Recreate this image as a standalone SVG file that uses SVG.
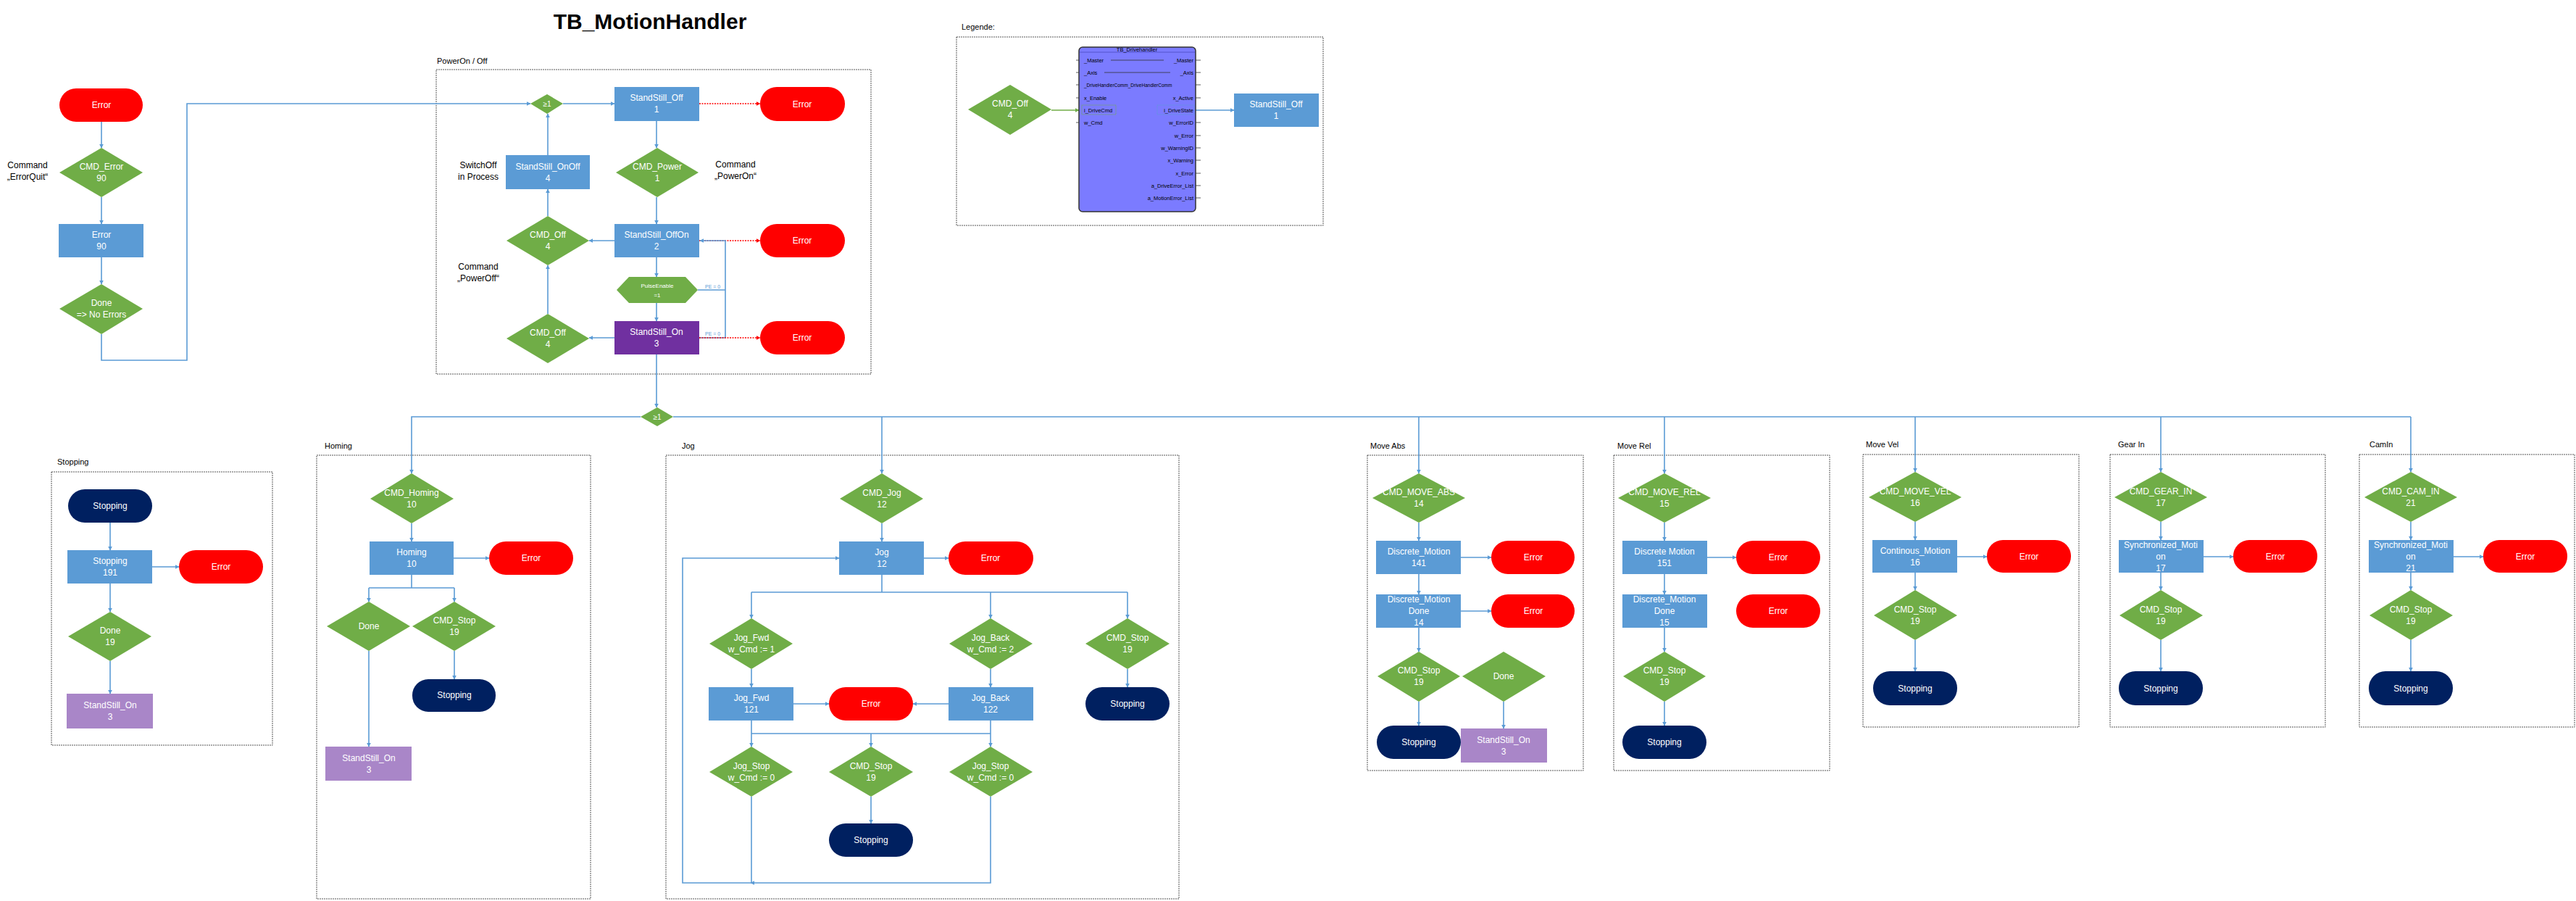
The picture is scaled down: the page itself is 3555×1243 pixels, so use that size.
<svg xmlns="http://www.w3.org/2000/svg" width="3555" height="1243" viewBox="0 0 3555 1243">
<style>
text{font-family:"Liberation Sans",Arial,sans-serif;font-size:12px}
.w{fill:#fff;text-anchor:middle}
.k{fill:#000}
.kc{fill:#000;text-anchor:middle}
.g{fill:#70ad47}
.b{fill:#5b9bd5}
.r{fill:#ff0000}
.n{fill:#002060}
.p{fill:#7030a0}
.l{fill:#a986c8}
.fr{fill:none;stroke:#555;stroke-width:1;stroke-dasharray:2 1}
.c{fill:none;stroke:#5b9bd5;stroke-width:1.6}
.ca{fill:none;stroke:#5b9bd5;stroke-width:1.6;marker-end:url(#ab)}
.cr{fill:none;stroke:#ff0000;stroke-width:1.4;stroke-dasharray:2 1.5;marker-end:url(#ar)}
.pe{fill:#5b9bd5;font-size:7px}
.pin{fill:#000;font-size:7.5px}
</style>
<defs>
<marker id="ab" viewBox="0 0 10 10" refX="9" refY="5" markerWidth="6" markerHeight="6" markerUnits="userSpaceOnUse" orient="auto"><path d="M0,0 L10,5 L0,10 z" fill="#5b9bd5"/></marker>
<marker id="ar" viewBox="0 0 10 10" refX="9" refY="5" markerWidth="6" markerHeight="6" markerUnits="userSpaceOnUse" orient="auto"><path d="M0,0 L10,5 L0,10 z" fill="#ff0000"/></marker>
<marker id="ag" viewBox="0 0 10 10" refX="9" refY="5" markerWidth="6" markerHeight="6" markerUnits="userSpaceOnUse" orient="auto"><path d="M0,0 L10,5 L0,10 z" fill="#70ad47"/></marker>
</defs>
<rect width="3555" height="1243" fill="#fff"/>
<text x="897" y="40" style="font-size:30px;font-weight:bold;text-anchor:middle" fill="#000">TB_MotionHandler</text>

<!-- frames -->
<g id="frames">
<rect class="fr" x="602" y="96" width="600" height="420"/>
<text class="k" x="603" y="88" style="font-size:11px">PowerOn / Off</text>
<rect class="fr" x="1320" y="51" width="506" height="260"/>
<text class="k" x="1327" y="41" style="font-size:11px">Legende:</text>
<rect class="fr" x="71" y="651" width="305" height="377"/>
<text class="k" x="79" y="641" style="font-size:11px">Stopping</text>
<rect class="fr" x="437" y="628" width="378" height="612"/>
<text class="k" x="448" y="619" style="font-size:11px">Homing</text>
<rect class="fr" x="919" y="628" width="708" height="612"/>
<text class="k" x="941" y="619" style="font-size:11px">Jog</text>
<rect class="fr" x="1887" y="628" width="298" height="435"/>
<text class="k" x="1891" y="619" style="font-size:11px">Move Abs</text>
<rect class="fr" x="2227" y="628" width="298" height="435"/>
<text class="k" x="2232" y="619" style="font-size:11px">Move Rel</text>
<rect class="fr" x="2571" y="627" width="298" height="376"/>
<text class="k" x="2575" y="617" style="font-size:11px">Move Vel</text>
<rect class="fr" x="2912" y="627" width="297" height="376"/>
<text class="k" x="2923" y="617" style="font-size:11px">Gear In</text>
<rect class="fr" x="3256" y="627" width="297" height="376"/>
<text class="k" x="3270" y="617" style="font-size:11px">CamIn</text>
</g>

<!-- connectors -->
<g id="connectors">
<path class="ca" d="M140,168 V204"/>
<path class="ca" d="M140,272 V309"/>
<path class="ca" d="M140,355 V392"/>
<path class="ca" d="M140,461 V497 H258 V143 H732"/>
<path class="ca" d="M777,143 H848"/>
<path class="cr" d="M965,143 H1049"/>
<path class="ca" d="M906,167 V204"/>
<path class="ca" d="M906,272 V309"/>
<path class="ca" d="M848,332 H813"/>
<path class="ca" d="M756,298 V261"/>
<path class="ca" d="M756,214 V157"/>
<path class="cr" d="M965,332 H1049"/>
<path class="ca" d="M906,355 V382"/>
<path class="ca" d="M906,418 V443"/>
<path class="c" d="M963,400 H1001"/>
<path class="c" d="M965,466 H1001"/>
<path class="ca" d="M1001,466 V332 H966"/>
<path class="ca" d="M848,466 H813"/>
<path class="ca" d="M756,433 V366"/>
<path class="cr" d="M965,466 H1049"/>
<path class="ca" d="M906,489 V562"/>
<path class="c" d="M929,575 H3327"/>
<path class="ca" d="M884,575 H568 V653"/>
<path class="ca" d="M1217,575 V653"/>
<path class="ca" d="M1958,575 V653"/>
<path class="ca" d="M2297,575 V653"/>
<path class="ca" d="M2643,575 V651"/>
<path class="ca" d="M2982,575 V651"/>
<path class="ca" d="M3327,575 V651"/>
<!-- stopping -->
<path class="ca" d="M152,721 V759"/>
<path class="ca" d="M210,782 H247"/>
<path class="ca" d="M152,805 V844"/>
<path class="ca" d="M152,912 V957"/>
<!-- homing -->
<path class="ca" d="M568,722 V747"/>
<path class="ca" d="M626,770 H675"/>
<path class="c" d="M568,793 V811 M509,811 H627"/>
<path class="ca" d="M509,811 V830"/>
<path class="ca" d="M627,811 V830"/>
<path class="ca" d="M627,898 V937"/>
<path class="ca" d="M509,898 V1030"/>
<!-- jog -->
<path class="ca" d="M1217,722 V747"/>
<path class="ca" d="M1275,770 H1309"/>
<path class="c" d="M1217,793 V817 M1037,817 H1556"/>
<path class="ca" d="M1037,817 V853"/>
<path class="ca" d="M1367,817 V853"/>
<path class="ca" d="M1556,817 V853"/>
<path class="ca" d="M1037,923 V948"/>
<path class="ca" d="M1367,923 V948"/>
<path class="ca" d="M1556,923 V948"/>
<path class="ca" d="M1095,971 H1144"/>
<path class="ca" d="M1309,971 H1260"/>
<path class="c" d="M1037,994 V1012 M1367,994 V1012 M1037,1012 H1367"/>
<path class="ca" d="M1037,1012 V1030"/>
<path class="ca" d="M1202,1012 V1030"/>
<path class="ca" d="M1367,1012 V1030"/>
<path class="ca" d="M1202,1099 V1136"/>
<path class="c" d="M1037,1099 V1218"/>
<path class="ca" d="M1367,1099 V1218 H1036"/>
<path class="ca" d="M1036,1218 H942 V770 H1158"/>
<!-- move abs -->
<path class="ca" d="M1958,721 V746"/>
<path class="ca" d="M2016,769 H2058"/>
<path class="ca" d="M1958,792 V820"/>
<path class="ca" d="M2016,843 H2058"/>
<path class="ca" d="M1958,866 V899"/>
<path class="ca" d="M1958,968 V1001"/>
<path class="ca" d="M2075,968 V1005"/>
<!-- move rel -->
<path class="ca" d="M2297,721 V746"/>
<path class="ca" d="M2356,769 H2396"/>
<path class="ca" d="M2297,792 V820"/>
<path class="ca" d="M2297,866 V899"/>
<path class="ca" d="M2297,968 V1001"/>
<!-- vel gear cam -->
<path class="ca" d="M2643,720 V745"/>
<path class="ca" d="M2701,768 H2742"/>
<path class="ca" d="M2643,790 V814"/>
<path class="ca" d="M2643,883 V926"/>
<path class="ca" d="M2982,720 V745"/>
<path class="ca" d="M3040,768 H3082"/>
<path class="ca" d="M2982,790 V814"/>
<path class="ca" d="M2982,883 V926"/>
<path class="ca" d="M3327,720 V745"/>
<path class="ca" d="M3385,768 H3427"/>
<path class="ca" d="M3327,790 V814"/>
<path class="ca" d="M3327,883 V926"/>
<!-- legend -->
<path d="M1451,152 H1489" fill="none" stroke="#70ad47" stroke-width="1.6" marker-end="url(#ag)"/>
<path class="ca" d="M1650,152 H1703"/>
</g>
<text class="pe" x="973" y="398">PE = 0</text>
<text class="pe" x="973" y="463">PE = 0</text>

<!-- left -->
<g id="n_err0"><rect class="r" x="82" y="122" width="115" height="46" rx="23"/><text class="w" x="140" y="149">Error</text></g>
<g id="n_cmderr"><path class="g" d="M140,204 L197,238 L140,272 L82,238 z"/><text class="w" x="140" y="234">CMD_Error</text><text class="w" x="140" y="250">90</text></g>
<text class="kc" x="38" y="232">Command</text><text class="kc" x="38" y="248">„ErrorQuit“</text>
<g id="n_err90"><rect class="b" x="81" y="309" width="117" height="46"/><text class="w" x="140" y="328">Error</text><text class="w" x="140" y="344">90</text></g>
<g id="n_done0"><path class="g" d="M140,392 L197,426 L140,461 L82,426 z"/><text class="w" x="140" y="422">Done</text><text class="w" x="140" y="438">=&gt; No Errors</text></g>

<!-- power on/off -->
<g id="n_or1"><path class="g" d="M755,130 L777,143 L755,157 L732,143 z"/><text class="w" x="755" y="147" style="font-size:10px">≥1</text></g>
<g id="n_ss_off"><rect class="b" x="848" y="120" width="117" height="47"/><text class="w" x="906" y="139">StandStill_Off</text><text class="w" x="906" y="155">1</text></g>
<g id="n_err1"><rect class="r" x="1049" y="120" width="117" height="47" rx="23"/><text class="w" x="1107" y="148">Error</text></g>
<g id="n_cmdpower"><path class="g" d="M907,204 L964,238 L907,272 L850,238 z"/><text class="w" x="907" y="234">CMD_Power</text><text class="w" x="907" y="250">1</text></g>
<text class="kc" x="1015" y="231">Command</text><text class="kc" x="1015" y="247">„PowerOn“</text>
<g id="n_ss_onoff"><rect class="b" x="698" y="214" width="116" height="47"/><text class="w" x="756" y="234">StandStill_OnOff</text><text class="w" x="756" y="250">4</text></g>
<text class="kc" x="660" y="232">SwitchOff</text><text class="kc" x="660" y="248">in Process</text>
<g id="n_ss_offon"><rect class="b" x="848" y="309" width="117" height="46"/><text class="w" x="906" y="328">StandStill_OffOn</text><text class="w" x="906" y="344">2</text></g>
<g id="n_cmdoff1"><path class="g" d="M756,298 L813,332 L756,366 L699,332 z"/><text class="w" x="756" y="328">CMD_Off</text><text class="w" x="756" y="344">4</text></g>
<g id="n_err2"><rect class="r" x="1049" y="309" width="117" height="46" rx="23"/><text class="w" x="1107" y="336">Error</text></g>
<text class="kc" x="660" y="372">Command</text><text class="kc" x="660" y="388">„PowerOff“</text>
<g id="n_pulse"><path class="g" d="M851,400 L868,382 L946,382 L963,400 L946,418 L868,418 z"/><text class="w" x="907" y="397" style="font-size:8px">PulseEnable</text><text class="w" x="907" y="410" style="font-size:8px">=1</text></g>
<g id="n_ss_on"><rect class="p" x="848" y="443" width="117" height="46"/><text class="w" x="906" y="462">StandStill_On</text><text class="w" x="906" y="478">3</text></g>
<g id="n_cmdoff2"><path class="g" d="M756,433 L813,467 L756,501 L699,467 z"/><text class="w" x="756" y="463">CMD_Off</text><text class="w" x="756" y="479">4</text></g>
<g id="n_err3"><rect class="r" x="1049" y="443" width="117" height="46" rx="23"/><text class="w" x="1107" y="470">Error</text></g>
<g id="n_or2"><path class="g" d="M907,562 L929,575 L907,588 L884,575 z"/><text class="w" x="907" y="579" style="font-size:10px">≥1</text></g>

<!-- legend -->
<g id="n_leg_cmd"><path class="g" d="M1394,117 L1451,151 L1394,186 L1336,151 z"/><text class="w" x="1394" y="147">CMD_Off</text><text class="w" x="1394" y="163">4</text></g>
<g id="n_leg_fb">
<rect x="1489" y="65" width="161" height="227" rx="5" fill="#7b7bff" stroke="#333" stroke-width="1.5"/>
<path d="M1490,72 H1649" stroke="#5555cc" stroke-width="1"/>
<text class="kc" x="1569" y="71" style="font-size:7.5px">TB_Drivehandler</text>
<g stroke="#333" stroke-width="0.8">
<path d="M1485,83 H1489 M1485,100 H1489 M1485,117 H1489 M1485,135 H1489 M1485,169 H1489"/>
<path d="M1650,83 H1657 M1650,100 H1657 M1650,117 H1657 M1650,135 H1657 M1650,169 H1657 M1650,187 H1657 M1650,204 H1657 M1650,221 H1657 M1650,239 H1657 M1650,256 H1657 M1650,273 H1657"/>
<path d="M1533,83 H1606 M1524,100 H1615"/>
</g>
<rect x="1493" y="145" width="47" height="13" fill="none" stroke="#70ad47" stroke-dasharray="1 1"/>
<rect x="1597" y="145" width="51" height="13" fill="none" stroke="#5b9bd5" stroke-dasharray="1 1"/>
<text class="pin" x="1496" y="86">_Master</text><text class="pin" x="1647" y="86" text-anchor="end">_Master</text>
<text class="pin" x="1496" y="103">_Axis</text><text class="pin" x="1647" y="103" text-anchor="end">_Axis</text>
<text class="pin" x="1496" y="120" style="font-size:6.5px">_DriveHandlerComm_DriveHandlerComm</text>
<text class="pin" x="1496" y="138">x_Enable</text><text class="pin" x="1647" y="138" text-anchor="end">x_Active</text>
<text class="pin" x="1496" y="155">i_DriveCmd</text><text class="pin" x="1647" y="155" text-anchor="end">i_DriveState</text>
<text class="pin" x="1496" y="172">w_Cmd</text><text class="pin" x="1647" y="172" text-anchor="end">w_ErrorID</text>
<text class="pin" x="1647" y="190" text-anchor="end">w_Error</text>
<text class="pin" x="1647" y="207" text-anchor="end">w_WarningID</text>
<text class="pin" x="1647" y="224" text-anchor="end">x_Warning</text>
<text class="pin" x="1647" y="242" text-anchor="end">x_Error</text>
<text class="pin" x="1647" y="259" text-anchor="end">a_DriveError_List</text>
<text class="pin" x="1647" y="276" text-anchor="end">a_MotionError_List</text>
</g>
<g id="n_leg_off"><rect class="b" x="1703" y="129" width="117" height="46"/><text class="w" x="1761" y="148">StandStill_Off</text><text class="w" x="1761" y="164">1</text></g>

<!-- stopping -->
<g id="n_st_stop"><rect class="n" x="94" y="675" width="116" height="46" rx="23"/><text class="w" x="152" y="702">Stopping</text></g>
<g id="n_st_191"><rect class="b" x="93" y="759" width="117" height="46"/><text class="w" x="152" y="778">Stopping</text><text class="w" x="152" y="794">191</text></g>
<g id="n_st_err"><rect class="r" x="247" y="759" width="116" height="46" rx="23"/><text class="w" x="305" y="786">Error</text></g>
<g id="n_st_done"><path class="g" d="M152,844 L209,878 L152,912 L94,878 z"/><text class="w" x="152" y="874">Done</text><text class="w" x="152" y="890">19</text></g>
<g id="n_st_on"><rect class="l" x="92" y="957" width="119" height="48"/><text class="w" x="152" y="977">StandStill_On</text><text class="w" x="152" y="993">3</text></g>

<!-- homing -->
<g id="n_h_cmd"><path class="g" d="M568,653 L626,688 L568,722 L511,688 z"/><text class="w" x="568" y="684">CMD_Homing</text><text class="w" x="568" y="700">10</text></g>
<g id="n_h_rect"><rect class="b" x="510" y="747" width="116" height="46"/><text class="w" x="568" y="766">Homing</text><text class="w" x="568" y="782">10</text></g>
<g id="n_h_err"><rect class="r" x="675" y="747" width="116" height="46" rx="23"/><text class="w" x="733" y="774">Error</text></g>
<g id="n_h_done"><path class="g" d="M509,830 L566,864 L509,898 L451,864 z"/><text class="w" x="509" y="868">Done</text></g>
<g id="n_h_stop"><path class="g" d="M627,830 L684,864 L627,898 L569,864 z"/><text class="w" x="627" y="860">CMD_Stop</text><text class="w" x="627" y="876">19</text></g>
<g id="n_h_stopping"><rect class="n" x="569" y="937" width="115" height="45" rx="22"/><text class="w" x="627" y="963">Stopping</text></g>
<g id="n_h_on"><rect class="l" x="449" y="1030" width="119" height="47"/><text class="w" x="509" y="1050">StandStill_On</text><text class="w" x="509" y="1066">3</text></g>

<!-- jog -->
<g id="n_j_cmd"><path class="g" d="M1217,653 L1274,688 L1217,722 L1159,688 z"/><text class="w" x="1217" y="684">CMD_Jog</text><text class="w" x="1217" y="700">12</text></g>
<g id="n_j_rect"><rect class="b" x="1158" y="747" width="117" height="46"/><text class="w" x="1217" y="766">Jog</text><text class="w" x="1217" y="782">12</text></g>
<g id="n_j_err"><rect class="r" x="1309" y="747" width="117" height="46" rx="23"/><text class="w" x="1367" y="774">Error</text></g>
<g id="n_j_fwd"><path class="g" d="M1037,853 L1094,888 L1037,923 L979,888 z"/><text class="w" x="1037" y="884">Jog_Fwd</text><text class="w" x="1037" y="900">w_Cmd := 1</text></g>
<g id="n_j_back"><path class="g" d="M1367,853 L1425,888 L1367,923 L1310,888 z"/><text class="w" x="1367" y="884">Jog_Back</text><text class="w" x="1367" y="900">w_Cmd := 2</text></g>
<g id="n_j_cstop"><path class="g" d="M1556,853 L1614,888 L1556,923 L1498,888 z"/><text class="w" x="1556" y="884">CMD_Stop</text><text class="w" x="1556" y="900">19</text></g>
<g id="n_j_fwdr"><rect class="b" x="978" y="948" width="117" height="46"/><text class="w" x="1037" y="967">Jog_Fwd</text><text class="w" x="1037" y="983">121</text></g>
<g id="n_j_err2"><rect class="r" x="1144" y="948" width="116" height="46" rx="23"/><text class="w" x="1202" y="975">Error</text></g>
<g id="n_j_backr"><rect class="b" x="1309" y="948" width="117" height="46"/><text class="w" x="1367" y="967">Jog_Back</text><text class="w" x="1367" y="983">122</text></g>
<g id="n_j_stopping1"><rect class="n" x="1498" y="948" width="116" height="46" rx="23"/><text class="w" x="1556" y="975">Stopping</text></g>
<g id="n_j_fstop"><path class="g" d="M1037,1030 L1094,1065 L1037,1099 L979,1065 z"/><text class="w" x="1037" y="1061">Jog_Stop</text><text class="w" x="1037" y="1077">w_Cmd := 0</text></g>
<g id="n_j_cstop2"><path class="g" d="M1202,1030 L1260,1065 L1202,1099 L1144,1065 z"/><text class="w" x="1202" y="1061">CMD_Stop</text><text class="w" x="1202" y="1077">19</text></g>
<g id="n_j_bstop"><path class="g" d="M1367,1030 L1425,1065 L1367,1099 L1310,1065 z"/><text class="w" x="1367" y="1061">Jog_Stop</text><text class="w" x="1367" y="1077">w_Cmd := 0</text></g>
<g id="n_j_stopping2"><rect class="n" x="1144" y="1136" width="116" height="46" rx="23"/><text class="w" x="1202" y="1163">Stopping</text></g>

<!-- move abs -->
<g id="n_a_cmd"><path class="g" d="M1958,653 L2022,687 L1958,721 L1894,687 z"/><text class="w" x="1958" y="683">CMD_MOVE_ABS</text><text class="w" x="1958" y="699">14</text></g>
<g id="n_a_r1"><rect class="b" x="1899" y="746" width="117" height="46"/><text class="w" x="1958" y="765">Discrete_Motion</text><text class="w" x="1958" y="781">141</text></g>
<g id="n_a_e1"><rect class="r" x="2058" y="746" width="115" height="46" rx="23"/><text class="w" x="2116" y="773">Error</text></g>
<g id="n_a_r2"><rect class="b" x="1899" y="820" width="117" height="46"/><text class="w" x="1958" y="831">Discrete_Motion</text><text class="w" x="1958" y="847">Done</text><text class="w" x="1958" y="863">14</text></g>
<g id="n_a_e2"><rect class="r" x="2058" y="820" width="115" height="46" rx="23"/><text class="w" x="2116" y="847">Error</text></g>
<g id="n_a_stop"><path class="g" d="M1958,899 L2015,933 L1958,968 L1901,933 z"/><text class="w" x="1958" y="929">CMD_Stop</text><text class="w" x="1958" y="945">19</text></g>
<g id="n_a_done"><path class="g" d="M2075,899 L2133,933 L2075,968 L2018,933 z"/><text class="w" x="2075" y="937">Done</text></g>
<g id="n_a_stopping"><rect class="n" x="1900" y="1001" width="116" height="46" rx="23"/><text class="w" x="1958" y="1028">Stopping</text></g>
<g id="n_a_on"><rect class="l" x="2016" y="1005" width="119" height="47"/><text class="w" x="2075" y="1025">StandStill_On</text><text class="w" x="2075" y="1041">3</text></g>

<!-- move rel -->
<g id="n_r_cmd"><path class="g" d="M2297,653 L2361,687 L2297,721 L2233,687 z"/><text class="w" x="2297" y="683">CMD_MOVE_REL</text><text class="w" x="2297" y="699">15</text></g>
<g id="n_r_r1"><rect class="b" x="2239" y="746" width="117" height="46"/><text class="w" x="2297" y="765">Discrete Motion</text><text class="w" x="2297" y="781">151</text></g>
<g id="n_r_e1"><rect class="r" x="2396" y="746" width="116" height="46" rx="23"/><text class="w" x="2454" y="773">Error</text></g>
<g id="n_r_r2"><rect class="b" x="2239" y="820" width="117" height="46"/><text class="w" x="2297" y="831">Discrete_Motion</text><text class="w" x="2297" y="847">Done</text><text class="w" x="2297" y="863">15</text></g>
<g id="n_r_e2"><rect class="r" x="2396" y="820" width="116" height="46" rx="23"/><text class="w" x="2454" y="847">Error</text></g>
<g id="n_r_stop"><path class="g" d="M2297,899 L2354,933 L2297,968 L2240,933 z"/><text class="w" x="2297" y="929">CMD_Stop</text><text class="w" x="2297" y="945">19</text></g>
<g id="n_r_stopping"><rect class="n" x="2239" y="1001" width="116" height="46" rx="23"/><text class="w" x="2297" y="1028">Stopping</text></g>

<!-- move vel -->
<g id="n_v_cmd"><path class="g" d="M2643,651 L2707,686 L2643,720 L2579,686 z"/><text class="w" x="2643" y="682">CMD_MOVE_VEL</text><text class="w" x="2643" y="698">16</text></g>
<g id="n_v_r"><rect class="b" x="2584" y="745" width="117" height="45"/><text class="w" x="2643" y="764">Continous_Motion</text><text class="w" x="2643" y="780">16</text></g>
<g id="n_v_e"><rect class="r" x="2742" y="745" width="116" height="45" rx="22"/><text class="w" x="2800" y="772">Error</text></g>
<g id="n_v_stop"><path class="g" d="M2643,814 L2701,849 L2643,883 L2586,849 z"/><text class="w" x="2643" y="845">CMD_Stop</text><text class="w" x="2643" y="861">19</text></g>
<g id="n_v_stopping"><rect class="n" x="2585" y="926" width="116" height="47" rx="23"/><text class="w" x="2643" y="954">Stopping</text></g>

<!-- gear in -->
<g id="n_g_cmd"><path class="g" d="M2982,651 L3046,686 L2982,720 L2918,686 z"/><text class="w" x="2982" y="682">CMD_GEAR_IN</text><text class="w" x="2982" y="698">17</text></g>
<g id="n_g_r"><rect class="b" x="2924" y="745" width="117" height="45"/><text class="w" x="2982" y="756">Synchronized_Moti</text><text class="w" x="2982" y="772">on</text><text class="w" x="2982" y="788">17</text></g>
<g id="n_g_e"><rect class="r" x="3082" y="745" width="116" height="45" rx="22"/><text class="w" x="3140" y="772">Error</text></g>
<g id="n_g_stop"><path class="g" d="M2982,814 L3040,849 L2982,883 L2925,849 z"/><text class="w" x="2982" y="845">CMD_Stop</text><text class="w" x="2982" y="861">19</text></g>
<g id="n_g_stopping"><rect class="n" x="2924" y="926" width="116" height="47" rx="23"/><text class="w" x="2982" y="954">Stopping</text></g>

<!-- cam in -->
<g id="n_c_cmd"><path class="g" d="M3327,651 L3391,686 L3327,720 L3263,686 z"/><text class="w" x="3327" y="682">CMD_CAM_IN</text><text class="w" x="3327" y="698">21</text></g>
<g id="n_c_r"><rect class="b" x="3269" y="745" width="117" height="45"/><text class="w" x="3327" y="756">Synchronized_Moti</text><text class="w" x="3327" y="772">on</text><text class="w" x="3327" y="788">21</text></g>
<g id="n_c_e"><rect class="r" x="3427" y="745" width="116" height="45" rx="22"/><text class="w" x="3485" y="772">Error</text></g>
<g id="n_c_stop"><path class="g" d="M3327,814 L3385,849 L3327,883 L3270,849 z"/><text class="w" x="3327" y="845">CMD_Stop</text><text class="w" x="3327" y="861">19</text></g>
<g id="n_c_stopping"><rect class="n" x="3269" y="926" width="116" height="47" rx="23"/><text class="w" x="3327" y="954">Stopping</text></g>
</svg>
